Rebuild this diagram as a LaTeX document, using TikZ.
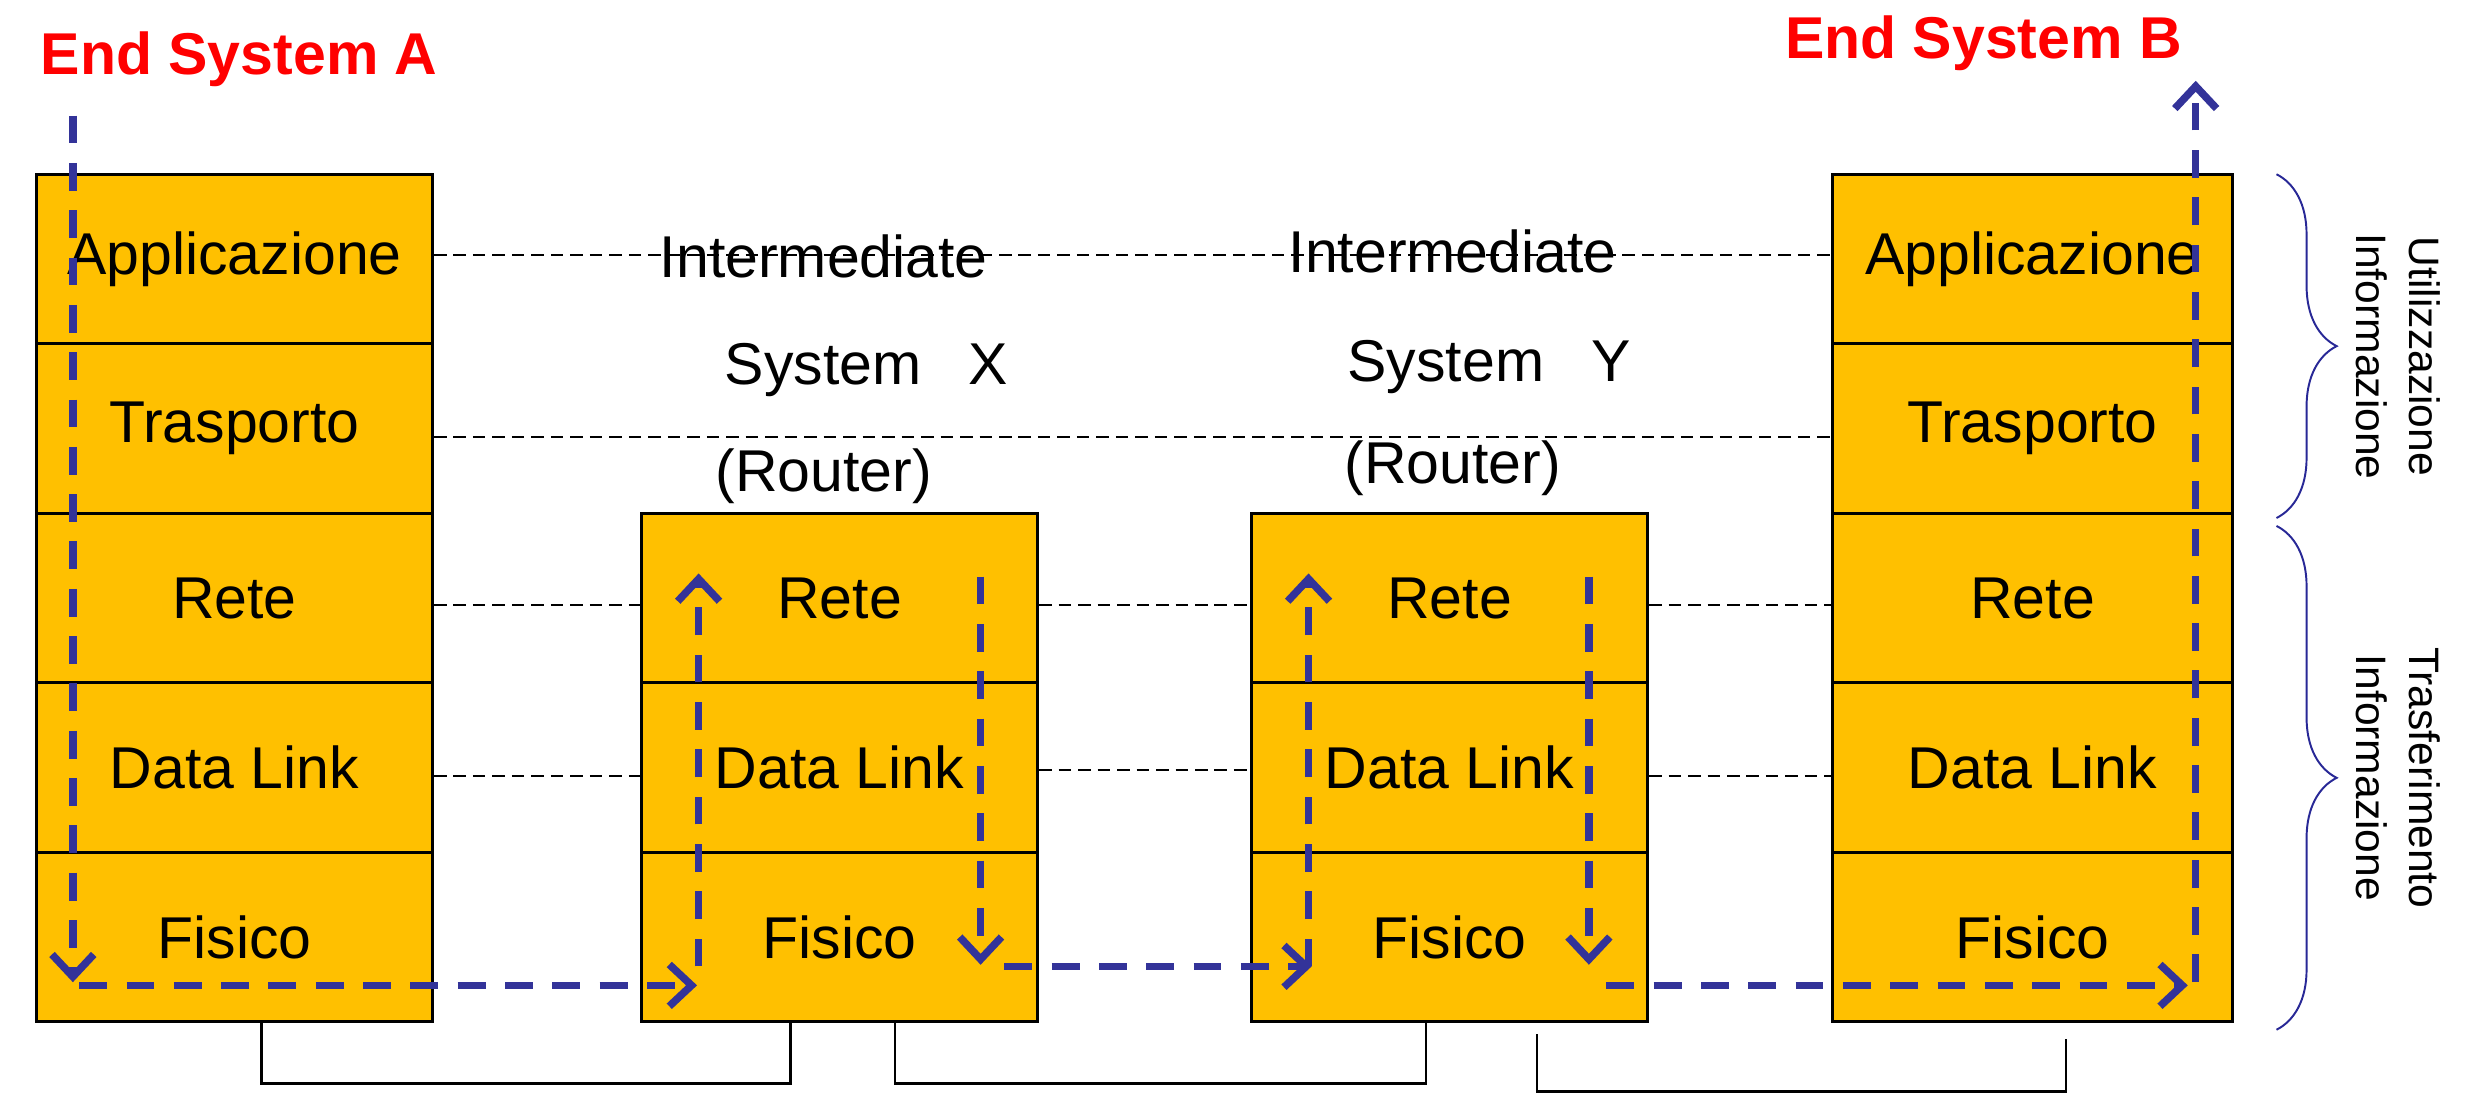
\documentclass[tikz,border=0pt]{standalone}
\usepackage{fontspec}
\setmainfont{Liberation Sans}
\usetikzlibrary{arrows.meta,decorations.pathreplacing}
\definecolor{cellfill}{RGB}{255,192,0}
\definecolor{flowblue}{RGB}{51,51,153}
\definecolor{titlered}{RGB}{255,0,0}
\definecolor{bracecol}{RGB}{40,40,150}
\newcommand\lblfont{\fontsize{21.2}{25}\selectfont}
\newcommand\sidefont{\fontsize{15.3}{19}\selectfont}
\begin{document}
\begin{tikzpicture}[x=0.02cm,y=-0.02cm,
 layer/.style={draw=black,line width=1.1pt,fill=cellfill,minimum width=5cm,minimum height=2.14cm,inner sep=0pt,font=\lblfont},
 layerB/.style={layer,minimum width=5.04cm},
 guide/.style={draw=black,line width=0.85pt,dash pattern=on 4.5pt off 2.5pt},
 flow/.style={draw=flowblue,line width=2.7pt,dash pattern=on 10pt off 7pt,-{Straight Barb[length=8pt,width=15pt]}},
 wire/.style={draw=black,line width=0.8pt},
 caption/.style={font=\lblfont,anchor=base,inner sep=0pt},
 title/.style={font=\lblfont\bfseries,text=titlered,anchor=base,inner sep=0pt},
 bracestyle/.style={draw=bracecol,line width=0.7pt,decorate,decoration={brace,amplitude=0.76cm}},
 sidenote/.style={font=\sidefont,rotate=-90,align=center,inner sep=0pt}
]
\useasboundingbox (0,0) rectangle (1568,702);

% End system A
\node[layer] (A1) at (148,163.5) {Applicazione};
\node[layer] (A2) at (148,270.5) {Trasporto};
\node[layer] (A3) at (148,377.5) {Rete};
\node[layer] (A4) at (148,484.5) {Data Link};
\node[layer] (A5) at (148,591.5) {Fisico};
% Router X
\node[layer] (X1) at (530,377.5) {Rete};
\node[layer] (X2) at (530,484.5) {Data Link};
\node[layer] (X3) at (530,591.5) {Fisico};
% Router Y
\node[layer] (Y1) at (915,377.5) {Rete};
\node[layer] (Y2) at (915,484.5) {Data Link};
\node[layer] (Y3) at (915,591.5) {Fisico};
% End system B
\node[layerB] (B1) at (1283,163.5) {Applicazione};
\node[layerB] (B2) at (1283,270.5) {Trasporto};
\node[layerB] (B3) at (1283,377.5) {Rete};
\node[layerB] (B4) at (1283,484.5) {Data Link};
\node[layerB] (B5) at (1283,591.5) {Fisico};

% peer guide lines
\draw[guide] ([yshift=0.05cm]A1.east) -- ([yshift=0.05cm]B1.west);
\draw[guide] ([yshift=-0.11cm]A2.east) -- ([yshift=-0.11cm]B2.west);
\draw[guide] ([yshift=-0.09cm]A3.east) -- ([yshift=-0.09cm]X1.west);
\draw[guide] ([yshift=-0.09cm]X1.east) -- ([yshift=-0.09cm]Y1.west);
\draw[guide] ([yshift=-0.09cm]Y1.east) -- ([yshift=-0.09cm]B3.west);
\draw[guide] ([yshift=-0.11cm]A4.east) -- ([yshift=-0.11cm]X2.west);
\draw[guide] ([yshift=-0.03cm]X2.east) -- ([yshift=-0.03cm]Y2.west);
\draw[guide] ([yshift=-0.11cm]Y2.east) -- ([yshift=-0.11cm]B4.west);

% physical wires
\draw[wire] ([xshift=0.34cm]A5.south) -- ++(0,38) -| ([xshift=-0.62cm]X3.south);
\draw[wire] ([xshift=0.7cm]X3.south) -- ++(0,38) -| ([xshift=-0.3cm]Y3.south);
\draw[wire] ([xshift=1.1cm,yshift=-0.14cm]Y3.south) -- ++(0,36) -| ([xshift=0.42cm,yshift=-0.2cm]B5.south);

% captions
\node[caption] (ix) at (520,175) {Intermediate};
\node[caption] (sx) at (547,243) {System\hspace{0.8em}X};
\node[caption] (rx) at (520,310) {(Router)};
\node[caption] (iy) at (917,172) {Intermediate};
\node[caption] (sy) at (940,241) {System\hspace{0.8em}Y};
\node[caption] (ry) at (917,305) {(Router)};

\node[title] (ea) at (151,47) {End System A};
\node[title] (eb) at (1252,37) {End System B};

% data flow
\coordinate (pA0) at (46,73);   \coordinate (pA1) at (46,620);
\coordinate (pA2) at (50,622);  \coordinate (pX0) at (440,622);
\coordinate (pX1) at (441,610); \coordinate (pX2) at (441,362);
\coordinate (pX3) at (619,364); \coordinate (pX4) at (619,609);
\coordinate (pX5) at (634,610); \coordinate (pY0) at (828,610);
\coordinate (pY1) at (826,610); \coordinate (pY2) at (826,362);
\coordinate (pY3) at (1003,364); \coordinate (pY4) at (1003,609);
\coordinate (pY5) at (1014,622); \coordinate (pB0) at (1381,622);
\coordinate (pB1) at (1386,620); \coordinate (pB2) at (1386,51);
\draw[flow] (pA0) -- (pA1);
\draw[flow] (pA2) -- (pX0);
\draw[flow] (pX1) -- (pX2);
\draw[flow] (pX3) -- (pX4);
\draw[flow] (pX5) -- (pY0);
\draw[flow] (pY1) -- (pY2);
\draw[flow] (pY3) -- (pY4);
\draw[flow] (pY5) -- (pB0);
\draw[flow] (pB1) -- (pB2);

% braces
\coordinate (br1a) at (1437,110); \coordinate (br1b) at (1437,327);
\coordinate (br2a) at (1437,332); \coordinate (br2b) at (1437,650);
\draw[bracestyle] (br1a) -- (br1b);
\draw[bracestyle] (br2a) -- (br2b);
\node[sidenote] (n1) at (1514,225) {Utilizzazione\\Informazione};
\node[sidenote] (n2) at (1514,491) {Trasferimento\\Informazione};
\end{tikzpicture}
\end{document}
